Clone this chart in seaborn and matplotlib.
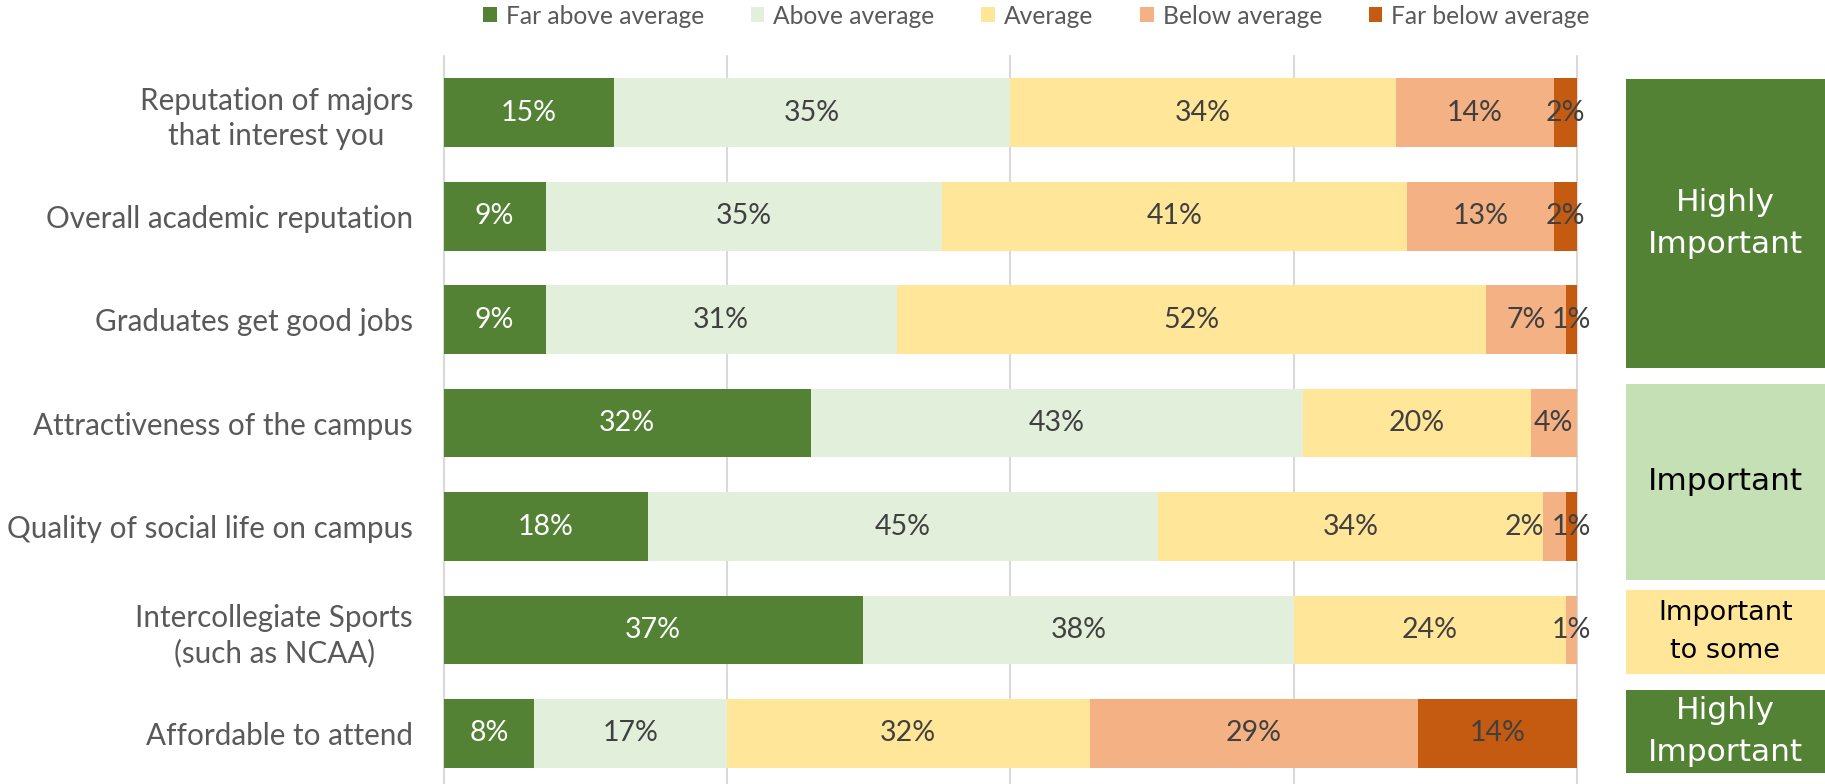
import matplotlib
matplotlib.use("Agg")
import matplotlib.pyplot as plt
from matplotlib.patches import Patch, Rectangle
import pandas as pd
import seaborn as sns

# Data (percent of respondents)
categories = [
    "Reputation of majors\nthat interest you",
    "Overall academic reputation",
    "Graduates get good jobs",
    "Attractiveness of the campus",
    "Quality of social life on campus",
    "Intercollegiate Sports\n(such as NCAA)",
    "Affordable to attend",
]
levels = ["Far above average", "Above average", "Average", "Below average", "Far below average"]
far_above = [15, 9, 9, 32.4, 18, 37, 8]
above = [35, 35, 31, 43.4, 45, 38, 17]
average = [34, 41, 52, 20.1, 34, 24, 32]
below = [14, 13, 7, 4.1, 2, 1, 29]
far_below = [2, 2, 1, 0, 1, 0, 14]

groups = ["Highly\nImportant", "Important", "Important\nto some", "Highly\nImportant"]

colors = ["#548235", "#E2EFDA", "#FFE699", "#F4B183", "#C55A11"]
label_colors = ["white", "#404040", "#404040", "#404040", "#404040"]
group_colors = ["#548235", "#C5E0B4", "#FFE699", "#548235"]
group_text = ["white", "black", "black", "white"]

df = pd.DataFrame({"category": categories, levels[0]: far_above, levels[1]: above,
                   levels[2]: average, levels[3]: below, levels[4]: far_below})
cum = df[levels].cumsum(axis=1)

sns.set_style("white")
plt.rcParams["font.family"] = ["Lato", "DejaVu Sans"]

W, H = 1825, 784
fig = plt.figure(figsize=(W / 100, H / 100), dpi=100)
ax = fig.add_axes([443.5 / W, 0, (1577 - 443.5) / W, (784 - 56) / H])

# stacked bars: draw cumulative totals from the right-most level backwards
for i in range(len(levels) - 1, -1, -1):
    sns.barplot(x=cum[levels[i]], y=df["category"], color=colors[i], orient="h",
                width=0.665, saturation=1, linewidth=0, ax=ax, zorder=2)

# segment labels (tiny neighbouring segments: nudge the first label left)
for i, lev in enumerate(levels):
    for r in range(len(df)):
        v = df[lev].iloc[r]
        if v <= 0:
            continue
        left = cum[lev].iloc[r] - v
        xpos = left + v / 2
        if i < len(levels) - 1 and v < 3 and 0 < df[levels[i + 1]].iloc[r] < 3:
            xpos -= 2.6
        ax.text(xpos, r, f"{v:.0f}%", ha="center", va="center",
                fontsize=20.5, color=label_colors[i], zorder=3)

ax.set_xlim(0, 100)
ax.set_ylim(len(df) - 0.51, -0.55)
ax.set_xticks([0, 25, 50, 75, 100])
ax.set_xticklabels([])
ax.xaxis.grid(True, color="#D9D9D9", lw=1.5, zorder=0)
for gl in ax.get_xgridlines():
    gl.set_clip_on(False)
ax.set_axisbelow(True)
for s in ax.spines.values():
    s.set_visible(False)
ax.set_xlabel("")
ax.set_ylabel("")
ax.tick_params(axis="both", length=0)
ax.tick_params(axis="y", pad=22, labelsize=21.3, labelcolor="#595959")
for lbl in ax.get_yticklabels():
    lbl.set_multialignment("center")
    lbl.set_linespacing(1.3)

# legend
handles = [Patch(facecolor=c, edgecolor="none") for c in colors]
fig.legend(handles, levels, loc="center", bbox_to_anchor=(0.568, 1 - 16 / H), ncol=5,
           frameon=False, fontsize=17.7, handlelength=0.55, handleheight=0.55,
           handletextpad=0.37, columnspacing=1.9, labelcolor="#595959")

# importance boxes on the right (figure pixel extents)
box_y = [(79, 368), (384, 580), (590, 674), (690, 773)]
box_fs = [22.5, 22.5, 19.5, 22.5]
for (y0, y1), txt, fc, tc, fs in zip(box_y, groups, group_colors, group_text, box_fs):
    fig.patches.append(Rectangle((1626 / W, 1 - y1 / H), (W - 1626) / W, (y1 - y0) / H,
                                 transform=fig.transFigure, facecolor=fc, edgecolor="none"))
    fig.text((1626 + W) / 2 / W, 1 - (y0 + y1) / 2 / H, txt, ha="center", va="center",
             fontsize=fs, color=tc, family=["DejaVu Sans"], linespacing=1.55)

fig.savefig("out.png", dpi=100)
